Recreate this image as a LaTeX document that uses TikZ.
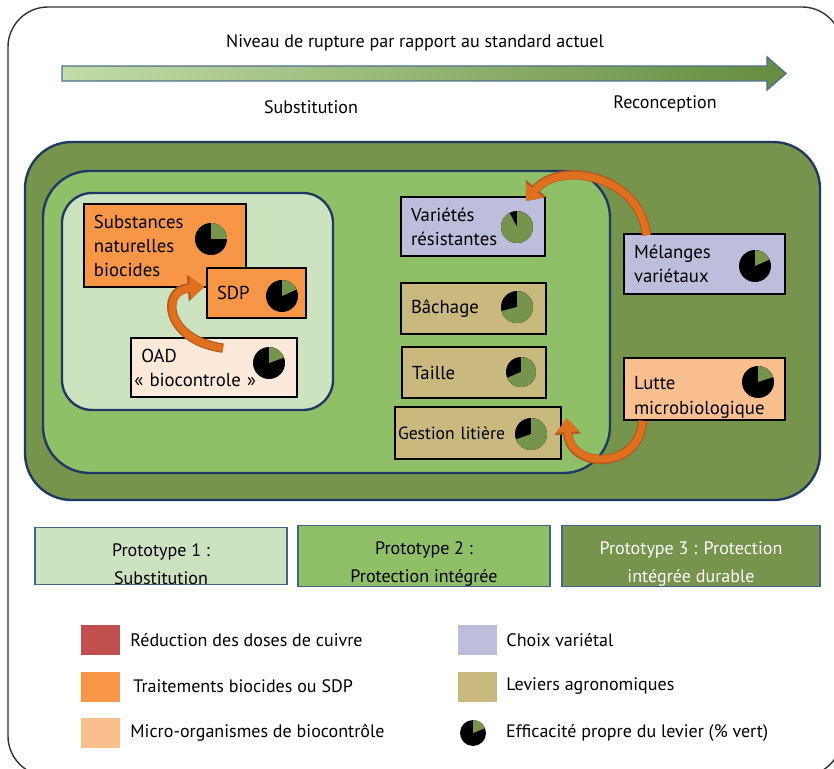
\documentclass[tikz,border=0pt]{standalone}
\usepackage{fontspec}
\setmainfont{PT Sans}
\usetikzlibrary{arrows.meta,positioning,calc}

\definecolor{protoA}{HTML}{CDE2BF}
\definecolor{protoB}{HTML}{8FBF67}
\definecolor{protoC}{HTML}{76944B}
\definecolor{zoneline}{HTML}{1F3864}
\definecolor{boxline}{HTML}{41658F}
\definecolor{biocide}{HTML}{F79646}
\definecolor{microorg}{HTML}{FABF8F}
\definecolor{oadfill}{HTML}{FDE9D9}
\definecolor{variete}{HTML}{BDBDDC}
\definecolor{agro}{HTML}{C9B97F}
\definecolor{cuivre}{HTML}{C0504D}
\definecolor{piegreen}{HTML}{76944B}
\definecolor{arrowin}{HTML}{E0701E}
\definecolor{arrowout}{HTML}{B25A22}
\definecolor{gradleft}{HTML}{C2DDA8}
\definecolor{gradright}{HTML}{648C3E}
\definecolor{gradline}{HTML}{4F7191}

% pie: centre, radius, green part from angle to angle
\newcommand{\leverpie}[4]{%
  \fill[black] (#1) circle (#2);
  \fill[piegreen] (#1) -- ++(-#3:#2) arc (-#3:-#4:#2) -- cycle;
}
% empty strut to lower a text block
\newcommand{\lowered}{\rule{0pt}{1.6em}}

\begin{document}
\begin{tikzpicture}[x=0.03cm, y=-0.03cm,
  every node/.style={font=\fontsize{15.4}{18}\selectfont},
  zone/.style={draw=zoneline, line width=2pt},
  lever/.style={draw=black, line width=1.4pt, align=left, inner xsep=0.3cm, inner ysep=0pt,
    font=\fontsize{16}{20.5}\selectfont},
  proto/.style={draw=boxline, line width=1.5pt, align=center, minimum width=7.56cm,
    minimum height=1.68cm, inner ysep=0pt, font=\fontsize{15.4}{24}\selectfont},
  swatch/.style={minimum width=1.17cm, minimum height=0.9cm, inner sep=0pt},
  legtext/.style={inner sep=0pt, anchor=west},
  bend arrow/.style={draw=arrowin, line width=6pt, -{Triangle[length=12pt,width=18pt]},
    preaction={draw=arrowout, line width=8pt, -{Triangle[length=14pt,width=22pt]}}}]
\useasboundingbox (0,0) rectangle (834,769);
\clip (0,0) rectangle (834,769);
% frame
\draw[line width=1.2pt, draw=black!80, rounded corners=1.2cm] (8,7) rectangle (842,776);
% rupture scale
\node (rupture) at (415,43) {Niveau de rupture par rapport au standard actuel};
\shadedraw[left color=gradleft, right color=gradright, draw=gradline, line width=1.2pt]
  (62,66) -- (767,66) -- (767,57) -- (786,73.5) -- (767,90) -- (767,81) -- (62,81) -- cycle;
\node (substitution) at (311,107) {Substitution};
\node (reconception) at (665,104) {Reconception};
% prototype zones
\draw[zone, fill=protoC, rounded corners=1.4cm] (25,142) rectangle (820,500);
\draw[zone, fill=protoB, rounded corners=1.4cm] (43,171) rectangle (610,473);
\draw[zone, fill=protoA, rounded corners=0.9cm] (62,193) rectangle (333,410);
% levers
\node[lever, fill=biocide, minimum width=4.86cm, minimum height=2.49cm, text width=4.26cm] (substances) at (165,245.5) {Substances\\naturelles\\biocides};
\node[lever, fill=biocide, minimum width=2.97cm, minimum height=1.5cm, text width=2.37cm] (sdp) at (256.5,293) {SDP};
\node[lever, fill=oadfill, minimum width=4.98cm, minimum height=1.77cm, text width=4.78cm, inner xsep=0.1cm] (oad) at (214,367.5) {\hspace*{6pt}OAD\\«~biocontrole~»};
\node[lever, fill=variete, minimum width=4.32cm, minimum height=1.77cm, text width=3.72cm] (varietes) at (473,226.5) {Variétés\\résistantes};
\node[lever, fill=agro, minimum width=4.35cm, minimum height=1.53cm, text width=3.75cm] (bachage) at (473.5,308.5) {Bâchage};
\node[lever, fill=agro, minimum width=4.32cm, minimum height=1.53cm, text width=3.72cm] (taille) at (474,372.5) {Taille};
\node[lever, fill=agro, minimum width=4.98cm, minimum height=1.56cm, text width=4.8cm, inner xsep=0.09cm, font=\fontsize{15}{20.5}\selectfont] (gestion) at (478,433) {Gestion litière};
\node[lever, fill=variete, minimum width=4.83cm, minimum height=1.8cm, text width=4.23cm] (melanges) at (704.5,264) {Mélanges\\variétaux};
\node[lever, fill=microorg, minimum width=4.83cm, minimum height=1.86cm, text width=4.23cm] (lutte) at (704.5,389) {\lowered Lutte\\microbiologique};
% efficacy pies
\leverpie{211,239}{16}{0}{90}
\leverpie{282,296}{16}{24}{90}
\leverpie{269,363}{16}{20}{90}
\leverpie{517,227}{16}{118}{450}
\leverpie{517,307}{16}{195}{450}
\leverpie{521,372}{15}{203}{450}
\leverpie{531,434}{16}{200}{450}
\leverpie{755,266}{16}{24}{90}
\leverpie{758,382}{16}{18}{90}
% moves between prototypes
\draw[bend arrow] ($(oad.north)+(9,11)$) .. controls (165,340) and (160,290) .. ($(sdp.west)+(-2,-6)$);
\draw[bend arrow] ($(melanges.north)+(-58,2)$) .. controls (640,175) and (560,160) .. ($(varietes.north east)+(-20,5)$);
\draw[bend arrow] ($(lutte.south)+(-62,0)$) .. controls (640,470) and (570,470) .. ($(gestion.east)+(5,-15)$);
% prototype boxes
\node[proto, fill=protoA] (proto1) at (161,556) {\lowered Prototype 1 :\\Substitution};
\node[proto, fill=protoB] (proto2) at (424,556) {\lowered Prototype 2 :\\Protection intégrée};
\node[proto, fill=protoC, text=white, minimum width=7.74cm] (proto3) at (691,556) {\lowered Prototype 3 : Protection\\intégrée durable};
% legend
\node[swatch, fill=cuivre] (sw-cuivre) at (100.5,640) {};
\node[legtext, right=0.3cm of sw-cuivre] (lg-cuivre) {Réduction des doses de cuivre};
\node[swatch, fill=biocide] (sw-biocide) at (100.5,686.5) {};
\node[legtext, right=0.39cm of sw-biocide] (lg-biocide) {Traitements biocides ou SDP};
\node[swatch, fill=microorg] (sw-micro) at (100.5,733) {};
\node[legtext, right=0.3cm of sw-micro] (lg-micro) {Micro-organismes de biocontrôle};
\node[swatch, fill=variete] (sw-variete) at (477.5,640) {};
\node[legtext, right=0.27cm of sw-variete] (lg-variete) {Choix variétal};
\node[swatch, fill=agro] (sw-agro) at (477.5,686.5) {};
\node[legtext, right=0.27cm of sw-agro] (lg-agro) {Leviers agronomiques};
\coordinate (sw-pie) at (473,733);
\leverpie{sw-pie}{13}{22}{90}
\node[legtext, right=0.99cm of sw-pie] (lg-pie) {Efficacité propre du levier (\% vert)};
\end{tikzpicture}
\end{document}
